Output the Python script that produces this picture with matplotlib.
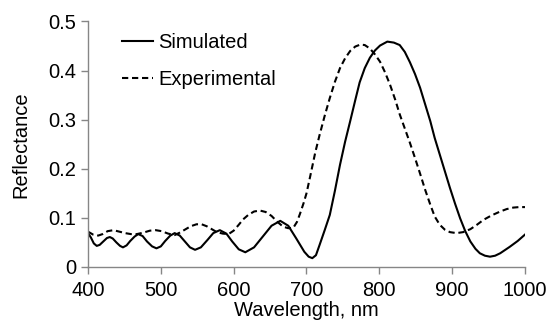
import matplotlib
matplotlib.use('Agg')
from matplotlib import pyplot

pyplot.rcParams['font.family'] = ['Liberation Sans', 'DejaVu Sans']

# simulated reflectance
sim_wl = [400, 404, 408, 412, 416, 421, 426, 430, 434, 439, 444, 448, 453, 458, 464, 469,
          475, 481, 488, 494, 500, 506, 513, 519, 526, 533, 540, 547, 555, 564, 572, 581,
          590, 598, 607, 616, 628, 640, 652, 664, 675, 686, 697, 703, 708, 713, 718, 725,
          732, 739, 746, 753, 760, 767, 773, 780, 787, 794, 801, 811, 820, 828, 835, 842,
          849, 856, 863, 870, 876, 883, 890, 897, 904, 911, 918, 925, 932, 938, 945, 952,
          959, 966, 972, 979, 990, 1000]
sim_r = [0.069, 0.060, 0.048, 0.043, 0.045, 0.052, 0.059, 0.061, 0.058, 0.050, 0.043, 0.040,
         0.044, 0.053, 0.062, 0.067, 0.063, 0.052, 0.042, 0.038, 0.042, 0.053, 0.064, 0.069,
         0.064, 0.052, 0.040, 0.035, 0.040, 0.055, 0.069, 0.075, 0.068, 0.052, 0.036, 0.030,
         0.040, 0.062, 0.084, 0.094, 0.084, 0.058, 0.031, 0.021, 0.018, 0.024, 0.045, 0.075,
         0.106, 0.155, 0.208, 0.255, 0.297, 0.340, 0.376, 0.405, 0.426, 0.441, 0.451, 0.459,
         0.457, 0.452, 0.438, 0.417, 0.393, 0.365, 0.331, 0.297, 0.263, 0.229, 0.195, 0.161,
         0.129, 0.099, 0.073, 0.052, 0.037, 0.028, 0.023, 0.021, 0.023, 0.028, 0.034, 0.041,
         0.053, 0.066]

# experimental reflectance
exp_wl = [400, 407, 414, 420, 427, 435, 443, 451, 459, 467, 476, 485, 493, 501, 510, 519,
          526, 533, 541, 549, 556, 563, 570, 577, 585, 593, 600, 607, 613, 620, 628, 636,
          644, 652, 660, 668, 675, 682, 687, 691, 696, 700, 705, 712, 718, 725, 732, 739,
          746, 753, 760, 767, 774, 780, 787, 794, 801, 808, 815, 822, 828, 835, 842, 849,
          856, 863, 870, 876, 883, 890, 897, 906, 915, 925, 934, 943, 954, 966, 975, 984,
          992, 1000]
exp_r = [0.072, 0.066, 0.064, 0.067, 0.073, 0.075, 0.072, 0.069, 0.067, 0.067, 0.070, 0.074,
         0.075, 0.073, 0.068, 0.065, 0.070, 0.076, 0.083, 0.087, 0.087, 0.083, 0.077, 0.071,
         0.068, 0.067, 0.074, 0.086, 0.097, 0.106, 0.113, 0.115, 0.112, 0.104, 0.092, 0.082,
         0.079, 0.080, 0.092, 0.108, 0.130, 0.150, 0.184, 0.233, 0.269, 0.308, 0.344, 0.377,
         0.405, 0.425, 0.440, 0.449, 0.453, 0.452, 0.445, 0.433, 0.418, 0.396, 0.370, 0.340,
         0.311, 0.282, 0.253, 0.222, 0.190, 0.157, 0.127, 0.103, 0.086, 0.076, 0.071, 0.069,
         0.071, 0.077, 0.086, 0.096, 0.105, 0.113, 0.118, 0.121, 0.122, 0.122]

xticks = [400, 500, 600, 700, 800, 900, 1000]
yticks = [0, 0.1, 0.2, 0.3, 0.4, 0.5]
ylabels = ['0', '0.1', '0.2', '0.3', '0.4', '0.5']

grey = '#868686'
fs = 14.5

fig = pyplot.figure(figsize=(5.5, 3.27), dpi=100)
ax = fig.add_axes([0.16, 0.1835, 0.7945, 0.7508])

ax.plot(sim_wl, sim_r, color='black', linewidth=1.5, label='Simulated')
ax.plot(exp_wl, exp_r, color='black', linewidth=1.5, dashes=(3.0, 1.8), label='Experimental')

ax.set_xlim(400, 1000)
ax.set_ylim(0, 0.5)
ax.set_xticks(xticks)
ax.set_yticks(yticks)
ax.set_yticklabels(ylabels)

for s in ['top', 'right']:
    ax.spines[s].set_visible(False)
for s in ['left', 'bottom']:
    ax.spines[s].set_color(grey)
    ax.spines[s].set_linewidth(1.0)

ax.tick_params(axis='both', direction='out', length=5, width=1, color=grey,
               labelsize=fs, labelcolor='black')
ax.tick_params(axis='x', pad=5)
ax.tick_params(axis='y', pad=3.5)

ax.set_xlabel('Wavelength, nm', fontsize=fs, labelpad=1)
ax.set_ylabel('Reflectance', fontsize=fs, labelpad=13)

ax.legend(loc='upper left', bbox_to_anchor=(0.078, 0.952), frameon=False, fontsize=fs,
          handlelength=1.55, handletextpad=0.25, labelspacing=0.9,
          borderpad=0, borderaxespad=0)

pyplot.savefig('out.png', dpi=100)
